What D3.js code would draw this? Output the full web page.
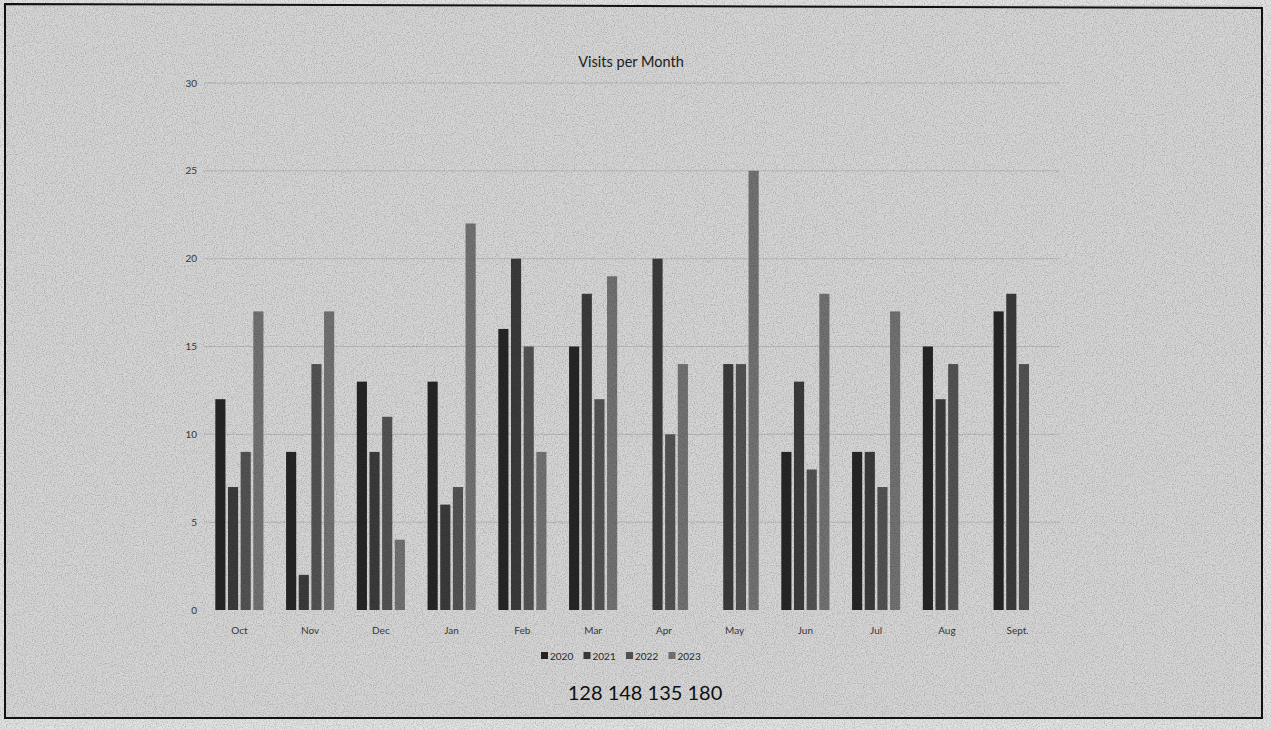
<!DOCTYPE html>
<html>
<head>
<meta charset="utf-8">
<script src="https://cdn.jsdelivr.net/npm/d3@7"></script>
<style>
  html, body { margin: 0; padding: 0; background: #e4e4e4; }
  svg { display: block; }
  text { font-family: Lato, "Open Sans", sans-serif; }
</style>
</head>
<body>
<div id="chart"></div>
<script>
var months = ['Oct', 'Nov', 'Dec', 'Jan', 'Feb', 'Mar', 'Apr', 'May', 'Jun', 'Jul', 'Aug', 'Sept.'];
var years = ['2020', '2021', '2022', '2023'];
// null = no bar for that month
var v2020 = [12, 9, 13, 13, 16, 15, null, null, 9, 9, 15, 17];
var v2021 = [7, 2, 9, 6, 20, 18, 20, 14, 13, 9, 12, 18];
var v2022 = [9, 14, 11, 7, 15, 12, 10, 14, 8, 7, 14, 14];
var v2023 = [17, 17, 4, 22, 9, 19, 14, 25, 18, 17, null, null];
var yTicks = [0, 5, 10, 15, 20, 25, 30];
var title = 'Visits per Month';
var note = '128 148 135 180';

var width = 1271,
    height = 730,
    colors = ['#262626', '#3b3b3b', '#535353', '#727272'],
    seriesVals = [v2020, v2021, v2022, v2023];

var svg = d3.select('#chart').append('svg')
    .attr('width', width)
    .attr('height', height);

// scanned paper grain
var defs = svg.append('defs');
var f = defs.append('filter').attr('id', 'grain')
    .attr('x', 0).attr('y', 0).attr('width', '100%').attr('height', '100%');
f.append('feTurbulence')
    .attr('type', 'fractalNoise')
    .attr('baseFrequency', 0.9)
    .attr('numOctaves', 2)
    .attr('seed', 4);
f.append('feColorMatrix')
    .attr('type', 'matrix')
    .attr('values', '0 0 0 0 0  0 0 0 0 0  0 0 0 0 0  0 0 0 -1.3 0.75');

svg.append('rect')
    .attr('width', width).attr('height', height)
    .style('fill', '#e2e2e2');
svg.append('rect')
    .attr('x', 5).attr('y', 5)
    .attr('width', 1257).attr('height', 713)
    .style('fill', '#d5d5d5');

var x0 = d3.scaleBand()
    .domain(months)
    .range([204, 1053])
    .paddingInner(0.32)
    .paddingOuter(0.16);
var x1 = d3.scaleBand()
    .domain(years)
    .range([0, x0.bandwidth()])
    .paddingInner(0.2);
var y = d3.scaleLinear()
    .domain([0, 30])
    .range([610, 83]);

// gridlines
svg.append('g').selectAll('line')
    .data(yTicks.slice(1))
    .enter().append('line')
    .attr('x1', 204).attr('x2', 1060)
    .attr('y1', function (d) { return y(d); })
    .attr('y2', function (d) { return y(d); })
    .style('stroke', '#b9b9b9')
    .style('stroke-width', 1);

// y tick labels
svg.append('g').selectAll('text')
    .data(yTicks)
    .enter().append('text')
    .attr('x', 197)
    .attr('y', function (d) { return y(d) + 3.5; })
    .attr('text-anchor', 'end')
    .style('font-size', '10px')
    .style('fill', '#3a3a3a')
    .text(function (d) { return d; });

// bars
var groups = svg.append('g').selectAll('g')
    .data(months)
    .enter().append('g')
    .attr('transform', function (d) { return 'translate(' + x0(d) + ',0)'; });

groups.selectAll('rect')
    .data(function (m, i) {
        return years.map(function (yr, k) {
            return { year: yr, k: k, value: seriesVals[k][i] };
        }).filter(function (d) { return d.value != null; });
    })
    .enter().append('rect')
    .attr('x', function (d) { return x1(d.year); })
    .attr('y', function (d) { return y(d.value); })
    .attr('width', x1.bandwidth())
    .attr('height', function (d) { return y(0) - y(d.value); })
    .style('fill', function (d) { return colors[d.k]; });

// x labels
svg.append('g').selectAll('text')
    .data(months)
    .enter().append('text')
    .attr('x', function (d) { return x0(d) + x0.bandwidth() / 2; })
    .attr('y', 634)
    .attr('text-anchor', 'middle')
    .style('font-size', '10px')
    .style('fill', '#3a3a3a')
    .text(function (d) { return d; });

// legend
var legend = svg.append('g').selectAll('g')
    .data(years)
    .enter().append('g')
    .attr('transform', function (d, i) { return 'translate(' + (541 + i * 42.5) + ',656)'; });
legend.append('rect')
    .attr('x', 0).attr('y', -4)
    .attr('width', 7).attr('height', 7)
    .style('fill', function (d, i) { return colors[i]; });
legend.append('text')
    .attr('x', 9).attr('y', 3.5)
    .style('font-size', '10px')
    .style('fill', '#2a2a2a')
    .text(function (d) { return d; });

// title
svg.append('text')
    .attr('x', 631).attr('y', 67)
    .attr('text-anchor', 'middle')
    .style('font-size', '14.5px')
    .style('fill', '#222')
    .text(title);

// handwritten totals
svg.append('text')
    .attr('x', 645).attr('y', 700)
    .attr('text-anchor', 'middle')
    .style('font-size', '20px')
    .style('fill', '#111')
    .text(note);

// grain on top
svg.append('rect')
    .attr('width', width).attr('height', height)
    .attr('filter', 'url(#grain)')
    .style('opacity', 0.35)
    .style('pointer-events', 'none');

// frame of the scanned sheet
svg.append('path')
    .attr('d', 'M5,4 L1262,8 L1262,718 L5,718 Z')
    .style('fill', 'none')
    .style('stroke', '#111')
    .style('stroke-width', 2);
</script>
</body>
</html>
